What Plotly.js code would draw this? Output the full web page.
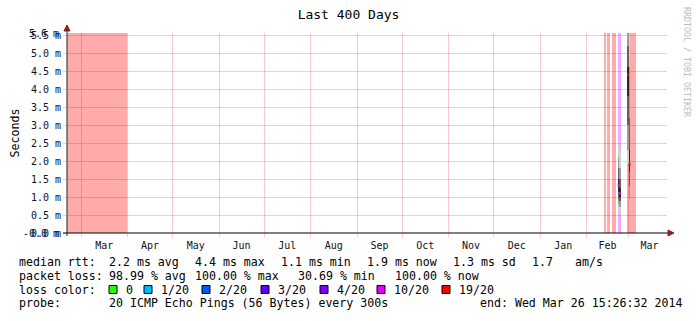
<!DOCTYPE html>
<html><head><meta charset="utf-8">
<script src="https://cdn.plot.ly/plotly-3.0.1.min.js"></script>
<style>html,body{margin:0;padding:0;background:#fff}#chart{width:697px;height:321px}</style>
</head><body><div id="chart"></div>
<script>
// ---------- data ----------
const rangeStart = '2013-02-19 15:26:32';
const rangeEnd   = '2014-03-26 15:26:32';

// periods with packet loss (background bars)
const lossStart = ['2013-02-19 15:26:32','2014-02-12 15:00','2014-02-14 10:00','2014-02-17 22:00','2014-02-21 23:00','2014-02-27 22:00'];
const lossEnd   = ['2013-03-31 22:00','2014-02-13 18:00','2014-02-16 15:00','2014-02-20 15:00','2014-02-23 18:00','2014-03-05 22:00'];
const lossPings = [20, 20, 20, 20, 10, 20];

// smoke samples (ms)
const sampleStart = ['2014-02-21 23:00','2014-02-22 20:00','2014-02-28 03:00','2014-03-01 03:00'];
const sampleEnd   = ['2014-02-22 20:00','2014-02-23 18:00','2014-03-01 03:00','2014-03-02 03:00'];
const pingMin = [0.60, 0.55, 1.90, 0.65];
const ping10  = [0.80, 0.72, 2.30, 0.95];
const ping25  = [0.95, 0.88, 3.00, 1.30];
const ping40  = [1.15, 1.00, 3.80, 1.70];
const ping60  = [1.50, 1.25, 4.60, 2.30];
const ping75  = [1.80, 1.50, 5.20, 3.20];
const ping90  = [2.10, 1.80, 5.60, 4.60];
const pingMax = [2.45, 2.30, 6.00, 5.60];
const medianRtt  = [1.33, 1.10, 4.40, 1.90];
const sampleLoss = [10, 10, 19, 19];

// axis ticks
const yTickVals = [0, 0.5, 1.0, 1.5, 2.0, 2.5, 3.0, 3.5, 4.0, 4.5, 5.0, 5.5];
const yTickText = ['0.0 m','0.5 m','1.0 m','1.5 m','2.0 m','2.5 m','3.0 m','3.5 m','4.0 m','4.5 m','5.0 m','5.5 m'];
const yMax = 5.556;

// loss colour legend
const legendThresh = [0, 1, 2, 3, 4, 10, 19];
const legendLabels = ['0','1/20','2/20','3/20','4/20','10/20','19/20'];
const legendColors = ['#26ff00','#00b8ff','#0059ff','#5e00ff','#7e00ff','#dd00ff','#ff0000'];

// summary text
const statLine1 = ['median rtt:','2.2 ms avg','4.4 ms max','1.1 ms min','1.9 ms now','1.3 ms sd','1.7','am/s'];
const statLine2 = ['packet loss:','98.99 % avg','100.00 % max','30.69 % min','100.00 % now'];
const statLine4 = ['probe:','20 ICMP Echo Pings (56 Bytes) every 300s','end: Wed Mar 26 15:26:32 2014'];

// ---------- helpers ----------
const toMs = s => Date.parse(s.replace(' ', 'T') + 'Z');
function lossColor(n) {
  let c = legendColors[0];
  for (let i = 0; i < legendThresh.length; i++) if (n >= legendThresh[i]) c = legendColors[i];
  return c;
}
function hexA(hex, a) {
  const r = parseInt(hex.slice(1,3),16), g = parseInt(hex.slice(3,5),16), b = parseInt(hex.slice(5,7),16);
  return `rgba(${r},${g},${b},${a})`;
}
const L = 67, T = 33, PW = 600, PH = 200;
const px = x => (x - L) / PW;
const py = y => (T + PH - y) / PH;
const MONO = 'DejaVu Sans Mono';

const traces = [];

// loss background bars
traces.push({
  type: 'bar',
  x: lossStart.map((s,i) => (toMs(s) + toMs(lossEnd[i])) / 2),
  width: lossStart.map((s,i) => toMs(lossEnd[i]) - toMs(s)),
  base: lossStart.map(() => 0),
  y: lossStart.map(() => yMax),
  marker: {color: lossPings.map(n => hexA(lossColor(n), 0.33)), line: {width: 0}},
  hoverinfo: 'skip', showlegend: false
});

// smoke bands
const bands = [[pingMin, pingMax, '#d0d0d0'], [ping10, ping90, '#9c9c9c'], [ping25, ping75, '#606060'], [ping40, ping60, '#2a2a2a']];
bands.forEach(([lo, hi, col]) => {
  traces.push({
    type: 'bar',
    x: sampleStart.map((s,i) => (toMs(s) + toMs(sampleEnd[i])) / 2),
    width: sampleStart.map((s,i) => toMs(sampleEnd[i]) - toMs(s)),
    base: lo,
    y: hi.map((h,i) => Math.min(h, yMax) - lo[i]),
    marker: {color: col, line: {width: 0}},
    hoverinfo: 'skip', showlegend: false
  });
});

// medians (short dash in the middle of each sample)
sampleStart.forEach((s,i) => {
  const mid = (toMs(s) + toMs(sampleEnd[i])) / 2, half = 16 * 3600e3;
  traces.push({
    type: 'scatter', mode: 'lines',
    x: [mid - half, mid + half],
    y: [medianRtt[i], medianRtt[i]],
    line: {color: lossColor(sampleLoss[i]), width: 2.5},
    hoverinfo: 'skip', showlegend: false
  });
});

// ---------- annotations ----------
const ann = [];
function txt(x, y, t, opts) {
  ann.push(Object.assign({xref:'paper', yref:'paper', x: px(x), y: py(y), text: t, showarrow:false,
    xanchor:'left', yanchor:'middle', font:{family:MONO, size:11.6, color:'#000'}}, opts || {}));
}
const l1x = [17, 107, 193, 279, 365, 451, 530, 573];
statLine1.forEach((t,i) => txt(l1x[i], 261.5, t));
const l2x = [17, 107, 193, 296, 393];
statLine2.forEach((t,i) => txt(l2x[i], 275.5, t));
txt(17, 289.5, 'loss color:');
const legX = [124, 159, 217, 276, 335, 392, 457];
legendLabels.forEach((t,i) => txt(legX[i], 289.5, t));
const l4x = [17, 107, 478];
statLine4.forEach((t,i) => txt(l4x[i], 303, t));

// overlapping y labels at the ends of the scale
ann.push({xref:'paper', yref:'paper', x: px(61), y: py(233), text: '-0.0 m', showarrow:false, xanchor:'right', yanchor:'middle', font:{family:MONO, size:10, color:'#111'}});
ann.push({xref:'paper', yref:'paper', x: px(61), y: py(33), text: '5.6 m', showarrow:false, xanchor:'right', yanchor:'middle', font:{family:MONO, size:10, color:'#111'}});

// watermark
ann.push({xref:'paper', yref:'paper', x: px(687), y: py(62), text: 'RRDTOOL / TOBI OETIKER', showarrow:false,
  textangle: 90, xanchor:'center', yanchor:'middle', font:{family:MONO, size:8.3, color:'#bdbdbd'}});

// ---------- shapes ----------
const shapes = [];
legendColors.forEach((c,i) => {
  shapes.push({type:'rect', xref:'paper', yref:'paper', x0: px(legX[i]-15), x1: px(legX[i]-7), y0: py(293.5), y1: py(285.5),
    fillcolor: c, line:{color:'#000', width:1}});
});
// axis lines
shapes.push({type:'line', xref:'paper', yref:'paper', x0: px(67), x1: px(67), y0: py(236), y1: py(29), line:{color:'#222', width:1}});
shapes.push({type:'line', xref:'paper', yref:'paper', x0: px(63), x1: px(669), y0: py(233), y1: py(233), line:{color:'#000', width:1}});
// arrow heads
const arrowCol = '#8b2222';
shapes.push({type:'path', xref:'paper', yref:'paper',
  path: `M ${px(67)} ${py(25)} L ${px(64)} ${py(31)} L ${px(70)} ${py(31)} Z`, fillcolor: arrowCol, line:{color: arrowCol, width:1}});
shapes.push({type:'path', xref:'paper', yref:'paper',
  path: `M ${px(674)} ${py(233)} L ${px(668)} ${py(230)} L ${px(668)} ${py(236)} Z`, fillcolor: arrowCol, line:{color: arrowCol, width:1}});

const gridCol = 'rgba(230,60,60,0.28)';
const layout = {
  width: 697, height: 321,
  margin: {l: 67, r: 30, t: 33, b: 88, pad: 0},
  paper_bgcolor: '#fff', plot_bgcolor: '#fff',
  showlegend: false,
  barmode: 'overlay', bargap: 0,
  title: {text: 'Last 400 Days', font: {family: MONO, size: 13, color: '#000'},
    xref: 'container', x: 0.5, xanchor: 'center', yref: 'container', y: 1 - 14.5/321, yanchor: 'middle'},
  xaxis: {
    type: 'date', range: [rangeStart, rangeEnd],
    tick0: '2013-03-01', dtick: 'M1', tickformat: '%b', ticklabelmode: 'period',
    showgrid: true, gridcolor: gridCol, gridwidth: 1,
    ticks: 'outside', ticklen: 3, tickcolor: gridCol,
    showline: false, zeroline: false,
    tickfont: {family: MONO, size: 10, color: '#111'}
  },
  yaxis: {
    range: [0, yMax], tickmode: 'array', tickvals: yTickVals, ticktext: yTickText,
    showgrid: true, gridcolor: gridCol, gridwidth: 1,
    ticks: 'outside', ticklen: 3, tickcolor: gridCol,
    showline: false, zeroline: false,
    tickfont: {family: MONO, size: 10, color: '#111'},
    title: {text: 'Seconds', font: {family: MONO, size: 11.6, color: '#000'}, standoff: 8}
  },
  annotations: ann,
  shapes: shapes
};

Plotly.newPlot('chart', traces, layout, {displayModeBar: false, staticPlot: true});
</script>
</body></html>
